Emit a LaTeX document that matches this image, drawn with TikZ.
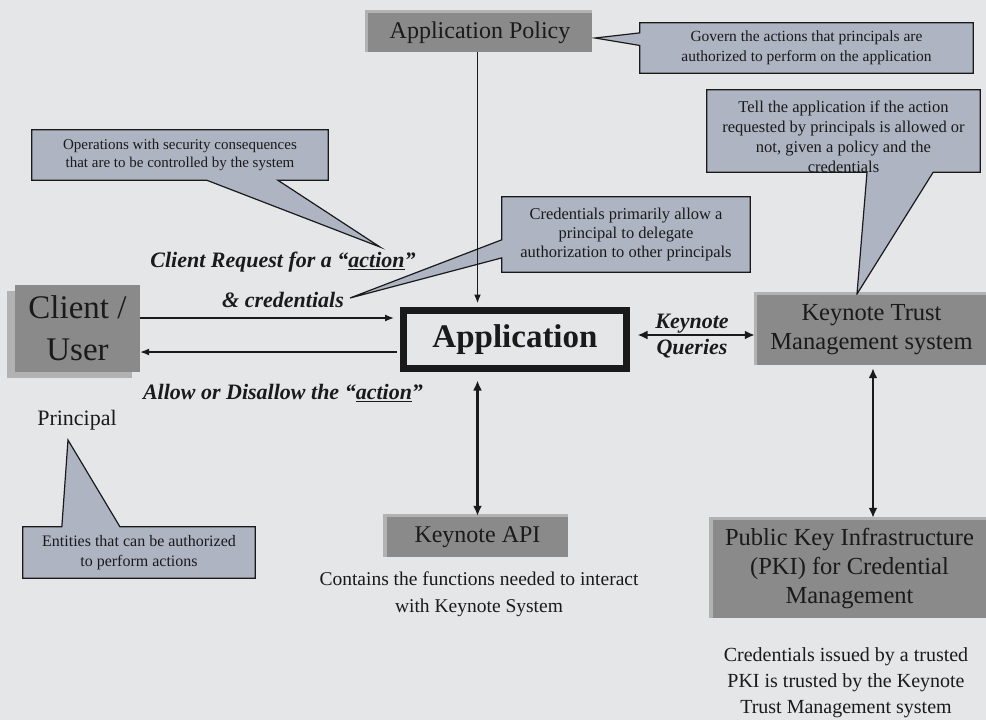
\documentclass[tikz,border=0pt]{standalone}
\usepackage{fontspec}
\setmainfont{Liberation Serif}
\usetikzlibrary{arrows.meta,calc,backgrounds}
\definecolor{paper}{HTML}{E4E6E8}
\definecolor{boxgray}{HTML}{8A8A8A}
\definecolor{boxshade}{HTML}{B2B2B2}
\definecolor{callfill}{HTML}{AEB4C2}
\definecolor{ink}{HTML}{1A1A1A}
\newcommand{\fsz}[2]{\fontsize{#1}{#2}\selectfont}
\begin{document}
\begin{tikzpicture}[x=1pt,y=-1pt,
  graybox/.style={fill=boxgray, text=ink, inner sep=0pt, align=center},
  calltext/.style={inner sep=0pt, align=center, text=ink},
  callshape/.style={fill=callfill, draw=ink, line width=1.2pt, line join=miter},
  shade/.style={fill=boxshade},
  label/.style={text=ink, inner sep=0pt, align=center, font=\bfseries\itshape\fsz{22}{26}},
  plain/.style={text=ink, inner sep=0pt, align=center},
  thin link/.style={draw=ink, line width=1.3pt, -{Latex[length=9pt,width=7pt]}},
  thick link/.style={draw=ink, line width=2.6pt, {Latex[length=10pt,width=9pt]}-{Latex[length=10pt,width=9pt]}},
]
\useasboundingbox (0,0) rectangle (986,720);

% ---------- boxes ----------
\node[graybox, minimum width=224pt, minimum height=39pt, font=\fsz{24}{28}] (policy) at (480,32.5) {Application Policy};
\node[graybox, minimum width=125pt, minimum height=87pt, font=\fsz{33}{42}] (client) at (77.5,328.5) {Client /\\User};
\node[draw=ink, fill=paper, line width=7pt, minimum width=223pt, minimum height=58pt, text=ink,
      font=\bfseries\fsz{33}{38}] (app) at (515,339.5) {Application};
\node[graybox, minimum width=229pt, minimum height=70pt, font=\fsz{24.5}{29}] (trust) at (871.5,330) {Keynote Trust\\Management system};
\node[graybox, minimum width=181pt, minimum height=40pt, font=\fsz{24}{28}] (api) at (477.5,537) {Keynote API};
\node[graybox, minimum width=273pt, minimum height=98pt, font=\fsz{24.5}{29}] (pki) at (849.5,569) {Public Key Infrastructure\\(PKI) for Credential\\Management};

% ---------- callout texts ----------
\node[calltext, minimum width=333pt, minimum height=50pt, font=\fsz{15.5}{20}] (govern) at (806.5,48)
  {Govern the actions that principals are\\authorized to perform on the application};
\node[calltext, minimum width=296pt, minimum height=50pt, font=\fsz{15}{17.5}] (ops) at (180,155)
  {Operations with security consequences\\that are to be controlled by the system};
\node[calltext, minimum width=273pt, minimum height=82pt, font=\fsz{16.5}{20}] (tell) at (843.5,137)
  {Tell the application if the action\\requested by principals is allowed or\\not, given a policy and the\\credentials};
\node[calltext, minimum width=248pt, minimum height=75pt, font=\fsz{16.5}{19}] (cred) at (626,234.5)
  {Credentials primarily allow a\\principal to delegate\\authorization to other principals};
\node[calltext, minimum width=232pt, minimum height=51pt, font=\fsz{16}{20}] (ent) at (139,552.5)
  {Entities that can be authorized\\to perform actions};

\coordinate (governtip) at (595,38);
\coordinate (opstip) at (380,247);
\coordinate (telltip) at (857,294);
\coordinate (credtip) at (350,298);
\coordinate (enttip) at (68,440);

% ---------- free labels ----------
\node[label] (req) at (283,262) {Client Request for a “\underline{action}”};
\node[label] (amp) at (283,300) {\& credentials};
\node[label] (allow) at (283,393) {Allow or Disallow the “\underline{action}”};
\node[label] (queries) at (692,336) {Keynote\\Queries};
\node[plain, font=\fsz{22}{26}] (principal) at (77,420) {Principal};
\node[plain, font=\fsz{19.5}{27}] (apinote) at (479,594) {Contains the functions needed to interact\\with Keynote System};
\node[plain, font=\fsz{20}{26}] (pkinote) at (846,683) {Credentials issued by a trusted\\PKI is trusted by the Keynote\\Trust Management system};

% ---------- connectors ----------
\draw[thin link, shorten >=6pt] ([yshift=10.5pt]client.east) -- ([yshift=10.5pt]client.east -| app.west);
\draw[thin link, shorten <=3.5pt] ([yshift=-12.5pt]app.west) -- ([yshift=-12.5pt]app.west -| client.east);
\draw[thin link, line width=1.8pt] (policy.south -| api.north) -- ([yshift=3.5pt]app.north -| api.north);
\draw[thick link, shorten <=5pt] ([yshift=-3.5pt]app.south -| api.north) -- ([yshift=1pt]api.north);
\draw[thick link, shorten <=4pt, shorten >=2pt] ([yshift=4.5pt,xshift=3.5pt]app.east) -- ([yshift=4.5pt]app.east -| trust.west);
\draw[thick link, shorten <=3pt, shorten >=2pt] (trust.south -| 873,0) -- (pki.north -| 873,0);

% ---------- backdrop, shadows and callout shapes ----------
\begin{pgfonlayer}{background}
  \fill[paper] (0,0) rectangle (986,720);
  \fill[shade] ($(policy.north west)+(-3,-3)$) rectangle (policy.south east);
  \fill[shade] ($(client.north west)+(-8,6)$) rectangle ($(client.south east)+(-8,6)$);
  \fill[shade] ($(trust.north west)+(-3,-3)$) rectangle (trust.south east);
  \fill[shade] ($(api.north west)+(-4,-3)$) rectangle (api.south east);
  \fill[shade] ($(pki.north west)+(-4,-3)$) rectangle (pki.south east);

  \path[callshape] (govern.north west) -- (govern.north east) -- (govern.south east) -- (govern.south west)
    -- ($(govern.north west)!0.45!(govern.south west)$) -- (governtip)
    -- ($(govern.north west)!0.2!(govern.south west)$) -- cycle;
  \path[callshape] (ops.north west) -- (ops.north east) -- (ops.south east)
    -- ($(ops.south west)!0.83!(ops.south east)$) -- (opstip)
    -- ($(ops.south west)!0.59!(ops.south east)$) -- (ops.south west) -- cycle;
  % the tell box sits a little higher than its text, so the last line rides on the bottom edge
  \path[callshape] ([yshift=6pt]tell.north west) -- ([yshift=6pt]tell.north east) -- ([yshift=6pt]tell.south east)
    -- ($([yshift=6pt]tell.south west)!0.828!([yshift=6pt]tell.south east)$) -- (telltip)
    -- ($([yshift=6pt]tell.south west)!0.586!([yshift=6pt]tell.south east)$) -- ([yshift=6pt]tell.south west) -- cycle;
  \path[callshape] (cred.north west) -- (cred.north east) -- (cred.south east) -- (cred.south west)
    -- ($(cred.north west)!0.81!(cred.south west)$) -- (credtip)
    -- ($(cred.north west)!0.57!(cred.south west)$) -- cycle;
  \path[callshape] (ent.north west) -- ($(ent.north west)!0.168!(ent.north east)$) -- (enttip)
    -- ($(ent.north west)!0.418!(ent.north east)$) -- (ent.north east) -- (ent.south east)
    -- (ent.south west) -- cycle;
\end{pgfonlayer}
\end{tikzpicture}
\end{document}
